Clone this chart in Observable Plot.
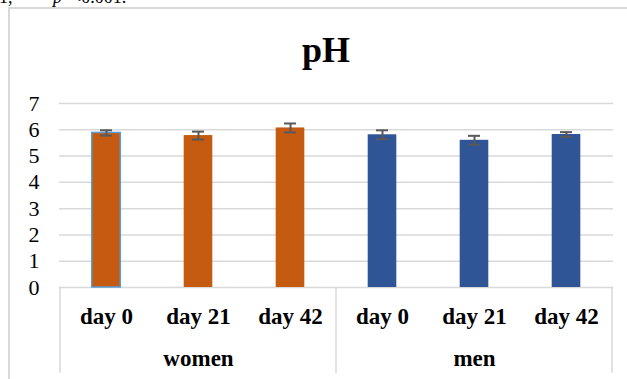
<!DOCTYPE html>
<html>
<head>
<meta charset="utf-8">
<script src="https://cdn.jsdelivr.net/npm/d3@7"></script>
<script src="https://cdn.jsdelivr.net/npm/@observablehq/plot@0.6"></script>
<style>
  html, body { margin: 0; padding: 0; background: #fff; }
  #wrap { position: relative; width: 627px; height: 379px; overflow: hidden; font-family: "Liberation Serif", "Times New Roman", serif; }
  #frame { position: absolute; left: 8px; top: 7px; width: 800px; height: 600px; border-left: 2px solid #d9d9d9; border-top: 2px solid #d9d9d9; }
  #note { position: absolute; left: -1px; top: -12.5px; font-size: 18px; line-height: 18px; white-space: pre; color: #000; }
  #title { position: absolute; left: 0; width: 652px; top: 32px; text-align: center; font-size: 36px; line-height: 36px; font-weight: bold; color: #000; }
  #chart { position: absolute; left: 0; top: 0; }
</style>
</head>
<body>
<div id="wrap">
  <div id="frame"></div>
  <div id="note">1,         <i>p</i>  &lt;0.001.</div>
  <div id="title">pH</div>
  <div id="chart"></div>
</div>
<script>
// ---- data ----
const groups = ["women", "women", "women", "men", "men", "men"];
const days = ["day 0", "day 21", "day 42", "day 0", "day 21", "day 42"];
const values = [5.88, 5.78, 6.07, 5.81, 5.60, 5.82];
const errors = [0.10, 0.15, 0.17, 0.17, 0.17, 0.09];
const groupNames = ["women", "men"];
const yTicks = [0, 1, 2, 3, 4, 5, 6, 7];
const colors = {women: "#c55a11", men: "#2f5597"};

const keys = groups.map((g, i) => g + "|" + days[i]);
const data = keys.map((k, i) => ({key: k, group: groups[i], day: days[i], value: values[i], err: errors[i], lo: values[i] - errors[i], hi: values[i] + errors[i]}));
const groupData = groupNames.map(g => {
  const ks = keys.filter((k, i) => groups[i] === g);
  return {group: g, first: ks[0], mid: ks[Math.floor(ks.length / 2)], last: ks[ks.length - 1]};
});

// separators of the two-level category axis, placed with the x scale
function separators(index, scales, values, dims) {
  const x = scales.x;
  const bw = x.bandwidth();
  const y0 = dims.height - dims.marginBottom;
  const xs = groupData.map(d => x(d.first)).concat([x(groupData[groupData.length - 1].last) + bw]);
  const g = d3.create("svg:g");
  g.selectAll("line").data(xs).join("line")
    .attr("x1", d => d).attr("x2", d => d)
    .attr("y1", y0).attr("y2", y0 + 86)
    .attr("stroke", "#d9d9d9").attr("stroke-width", 1.5);
  return g.node();
}

const plot = Plot.plot({
  width: 627,
  height: 379,
  marginLeft: 59,
  marginRight: 14,
  marginTop: 103,
  marginBottom: 92,
  style: {fontFamily: "'Liberation Serif', 'Times New Roman', serif", fontSize: "22px", background: "transparent", color: "#000", overflow: "visible"},
  x: {domain: keys, padding: 0, tickSize: 0, tickPadding: 20, tickFormat: k => k.split("|")[1], label: null},
  y: {domain: [0, 7], ticks: yTicks, tickSize: 0, tickPadding: 20, tickFormat: d3.format("d"), label: null},
  marks: [
    Plot.ruleY(yTicks, {y: d => d, stroke: "#d9d9d9", strokeWidth: 1.5}),
    Plot.barY(data, {x: "key", y: "value", fill: d => colors[d.group], insetLeft: 31.7, insetRight: 31.7}),
    Plot.barY(data.filter((d, i) => i === 0), {x: "key", y: "value", fill: "none", stroke: "#5b9bd5", strokeWidth: 1.5, insetLeft: 31.7, insetRight: 31.7}),
    Plot.ruleX(data, {x: "key", y1: "lo", y2: "hi", stroke: "#595959", strokeWidth: 2}),
    Plot.tickY(data, {x: "key", y: "lo", stroke: "#595959", strokeWidth: 2, insetLeft: 40, insetRight: 40}),
    Plot.tickY(data, {x: "key", y: "hi", stroke: "#595959", strokeWidth: 2, insetLeft: 40, insetRight: 40}),
    separators,
    Plot.text(groupData, {x: "mid", y: () => 0, text: "group", dy: 71.5, fontSize: 23, fontWeight: "bold", fill: "#000"})
  ]
});

d3.select(plot).selectAll('g[aria-label^="x-axis"] text').attr("font-size", 23).attr("font-weight", "bold").style("font-size", "23px").style("font-weight", "bold");
d3.select(plot).selectAll('g[aria-label^="y-axis"] text').style("font-size", "22px");
document.getElementById("chart").appendChild(plot);
</script>
</body>
</html>
